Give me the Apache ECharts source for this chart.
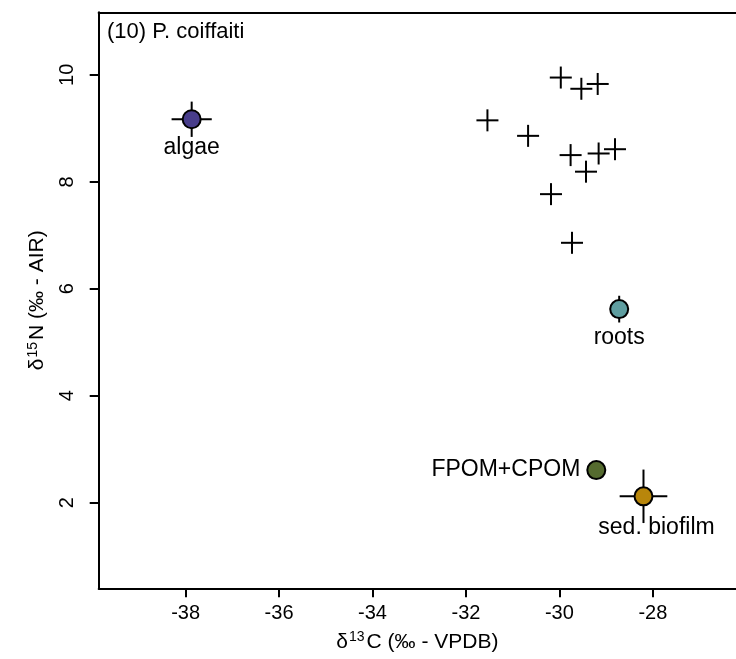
<!DOCTYPE html>
<html>
<head>
<meta charset="utf-8">
<script src="https://cdn.jsdelivr.net/npm/echarts@6/dist/echarts.min.js"></script>
<style>
  html, body { margin: 0; padding: 0; background: #fff; }
  #chart { width: 736px; height: 659px; }
</style>
</head>
<body>
<div id="chart"></div>
<script>
// Consumer isotope values (δ13C, δ15N)
const consumerC = [-29.97, -29.53, -29.18, -31.54, -30.67, -29.76, -29.16, -28.81, -29.43, -30.18, -29.73];
const consumerN = [9.95, 9.74, 9.83, 9.15, 8.86, 8.50, 8.53, 8.61, 8.19, 7.77, 6.86];

// Food sources: mean and standard deviation
const sourceNames = ['algae', 'roots', 'FPOM+CPOM', 'sed. biofilm'];
const sourceC = [-37.87, -28.72, -29.21, -28.20];
const sourceN = [9.17, 5.62, 2.61, 2.12];
const sourceCsd = [0.43, 0.12, 0.10, 0.51];
const sourceNsd = [0.33, 0.25, 0.10, 0.50];
const sourceColors = ['#483D8B', '#5F9EA0', '#556B2F', '#B8860B'];

// Tick values
const xTicks = [-38, -36, -34, -32, -30, -28];
const yTicks = [2, 4, 6, 8, 10];

const FONT = '"Liberation Sans", Arial, sans-serif';
const xMin = -39.86, xMax = -26.22, yMin = 0.40, yMax = 11.17;

const labelPlacement = {
  'algae':        { position: 'bottom', offset: [0, 2] },
  'roots':        { position: 'bottom', offset: [0, 2] },
  'FPOM+CPOM':    { position: 'left',   offset: [-1, 0] },
  'sed. biofilm': { position: 'bottom', offset: [13, 5] }
};

const sourceData = sourceNames.map((n, i) => ({
  name: n,
  value: [sourceC[i], sourceN[i]],
  itemStyle: { color: sourceColors[i] },
  label: Object.assign({ show: true, formatter: n }, labelPlacement[n])
}));

const errData = sourceNames.map((n, i) => [sourceC[i], sourceN[i], sourceCsd[i], sourceNsd[i]]);
const crossData = consumerC.map((c, i) => [c, consumerN[i]]);

const chart = echarts.init(document.getElementById('chart'));
chart.setOption({
  animation: false,
  backgroundColor: '#fff',
  textStyle: { fontFamily: FONT },
  grid: { left: 98.7, right: 0, top: 12.3, bottom: 70.7 },
  title: {
    text: '(10) P. coiffaiti',
    left: 102, top: 16,
    textStyle: { fontFamily: FONT, fontSize: 22, fontWeight: 'normal', color: '#000' }
  },
  xAxis: [{
    type: 'value', min: xMin, max: xMax, position: 'bottom',
    axisLine: { show: true, onZero: false, lineStyle: { color: '#000', width: 2 } },
    axisTick: { show: true, length: 9, lineStyle: { color: '#000', width: 2 }, customValues: xTicks },
    axisLabel: { show: true, customValues: xTicks, color: '#000', fontSize: 20, margin: 15, fontFamily: FONT },
    splitLine: { show: false },
    name: '{d|δ}{s|13}{d|C (‰ - VPDB)}',
    nameLocation: 'middle', nameGap: 42,
    nameTextStyle: {
      rich: {
        d: { fontSize: 21, color: '#000', fontFamily: FONT },
        s: { fontSize: 14, color: '#000', fontFamily: FONT, verticalAlign: 'top', padding: [0, 2, 10, 1] }
      }
    }
  }, {
    type: 'value', min: xMin, max: xMax, position: 'top',
    axisLine: { show: true, onZero: false, lineStyle: { color: '#000', width: 2 } },
    axisTick: { show: false }, axisLabel: { show: false }, splitLine: { show: false }
  }],
  yAxis: {
    type: 'value', min: yMin, max: yMax,
    axisLine: { show: true, onZero: false, lineStyle: { color: '#000', width: 2 } },
    axisTick: { show: true, length: 9, lineStyle: { color: '#000', width: 2 }, customValues: yTicks },
    axisLabel: { show: true, customValues: yTicks, rotate: 90, color: '#000', fontSize: 20, margin: 21, fontFamily: FONT },
    splitLine: { show: false },
    name: '{d|δ}{s|15}{d|N (‰ - AIR)}',
    nameLocation: 'middle', nameGap: 49, nameRotate: 90,
    nameTextStyle: {
      rich: {
        d: { fontSize: 21, color: '#000', fontFamily: FONT },
        s: { fontSize: 14, color: '#000', fontFamily: FONT, verticalAlign: 'top', padding: [0, 2, 10, 1] }
      }
    }
  },
  series: [
    {
      // consumer crosses
      type: 'custom',
      data: crossData,
      renderItem: function (params, api) {
        const p = api.coord([api.value(0), api.value(1)]);
        const h = 11;
        const st = { stroke: '#000', lineWidth: 2 };
        return {
          type: 'group',
          children: [
            { type: 'line', shape: { x1: p[0] - h, y1: p[1], x2: p[0] + h, y2: p[1] }, style: st },
            { type: 'line', shape: { x1: p[0], y1: p[1] - h, x2: p[0], y2: p[1] + h }, style: st }
          ]
        };
      },
      z: 2
    },
    {
      // source error bars (±1 SD)
      type: 'custom',
      data: errData,
      renderItem: function (params, api) {
        const c = api.value(0), n = api.value(1), sc = api.value(2), sn = api.value(3);
        const a = api.coord([c - sc, n]), b = api.coord([c + sc, n]);
        const u = api.coord([c, n + sn]), d = api.coord([c, n - sn]);
        const st = { stroke: '#000', lineWidth: 2 };
        return {
          type: 'group',
          children: [
            { type: 'line', shape: { x1: a[0], y1: a[1], x2: b[0], y2: b[1] }, style: st },
            { type: 'line', shape: { x1: u[0], y1: u[1], x2: d[0], y2: d[1] }, style: st }
          ]
        };
      },
      z: 3
    },
    {
      // source means
      type: 'scatter',
      symbol: 'circle',
      symbolSize: 18,
      itemStyle: { borderColor: '#000', borderWidth: 2, opacity: 1 },
      label: { color: '#000', fontSize: 23, fontFamily: FONT },
      emphasis: { disabled: true },
      data: sourceData,
      z: 4
    }
  ]
});
</script>
</body>
</html>
